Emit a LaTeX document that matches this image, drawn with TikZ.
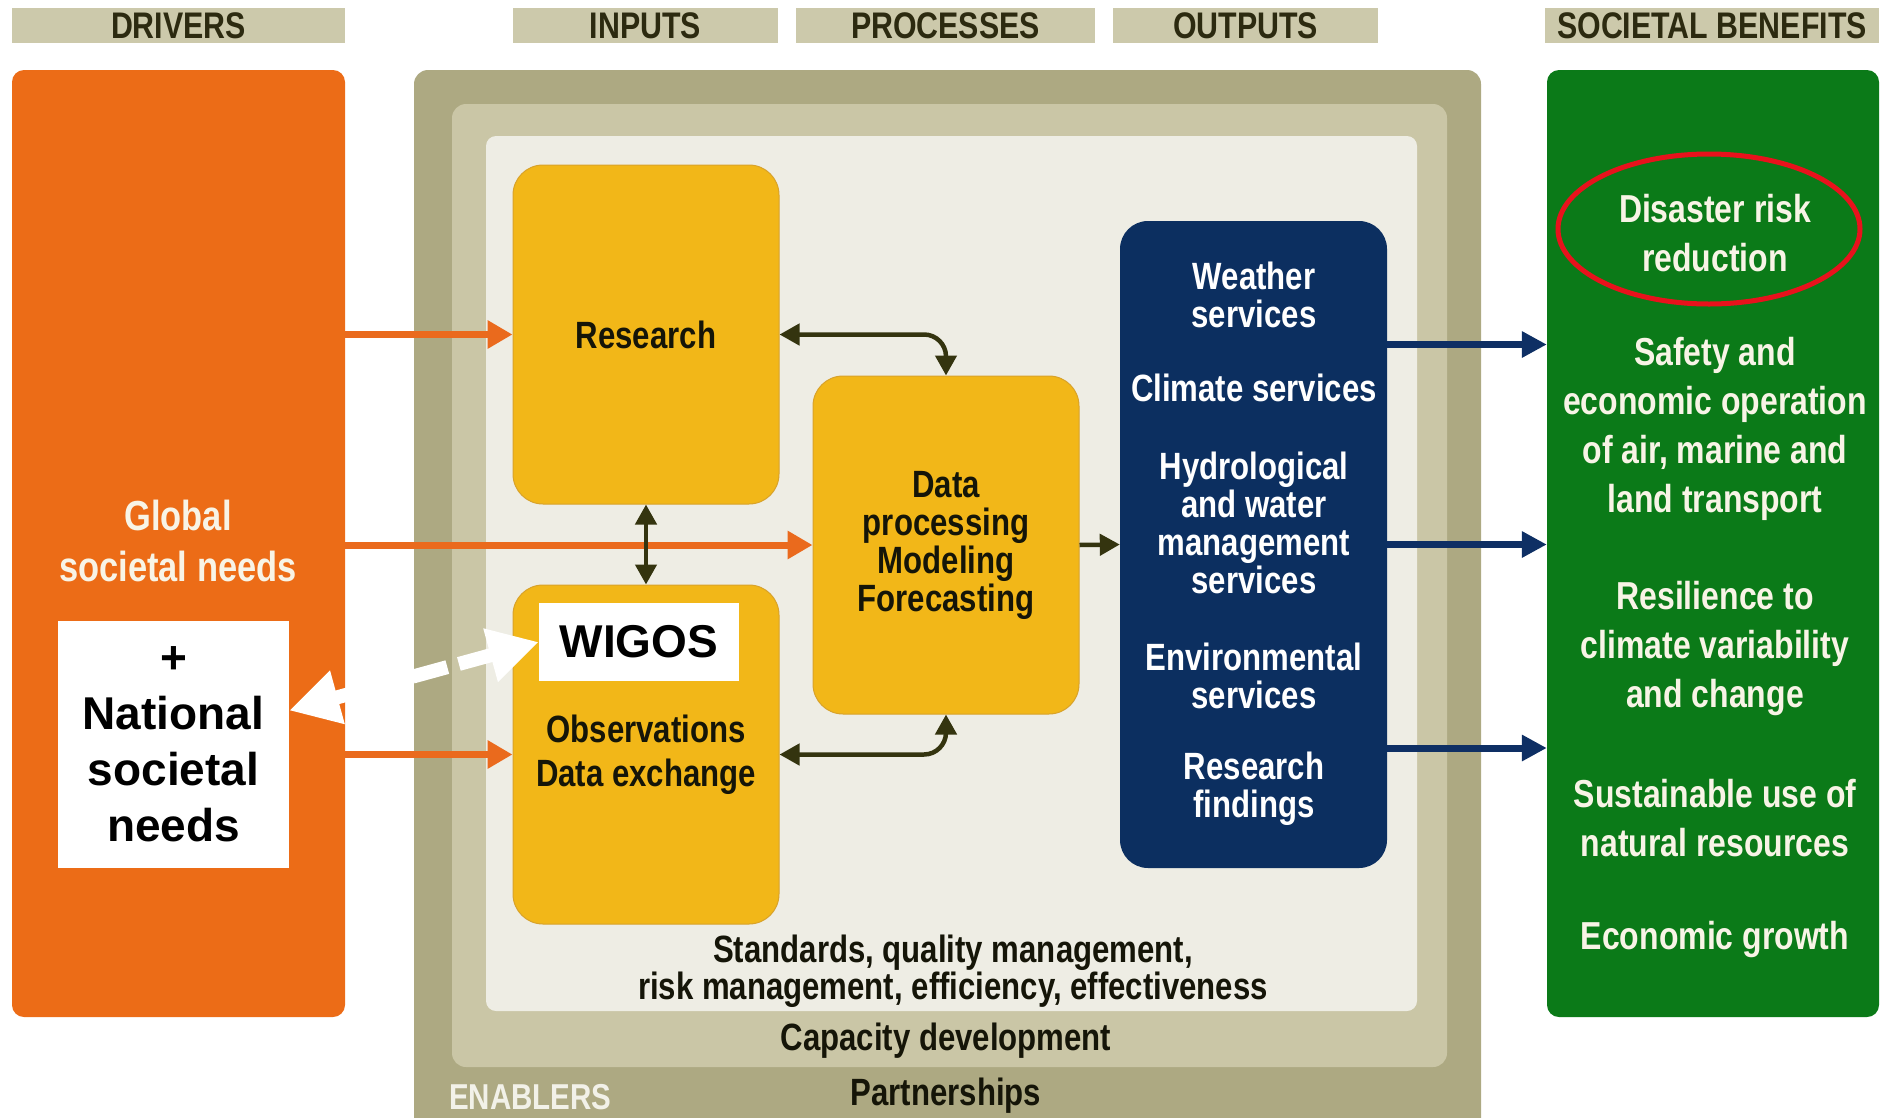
\documentclass[tikz,border=0pt]{standalone}
\usepackage{fontspec}
\usetikzlibrary{arrows.meta,shapes.geometric}
\newfontfamily\cf{Liberation Sans}[FakeStretch=0.82]
\newfontfamily\af{Liberation Sans}
\definecolor{hdrbg}{HTML}{CCC9AB}
\definecolor{hdrtx}{HTML}{2C2A10}
\definecolor{orng}{HTML}{EC6C17}
\definecolor{grn}{HTML}{0B7A18}
\definecolor{encol}{HTML}{ADA982}
\definecolor{capcol}{HTML}{CAC6A6}
\definecolor{inncol}{HTML}{EEEDE4}
\definecolor{yel}{HTML}{F2B718}
\definecolor{yelb}{HTML}{D8A22A}
\definecolor{navy}{HTML}{0C2F60}
\definecolor{darkarr}{HTML}{34340F}
\definecolor{orarr}{HTML}{EA6A1D}
\definecolor{navarr}{HTML}{0E2F64}
\definecolor{ink}{HTML}{151508}
\definecolor{cream}{HTML}{F8F4E6}
\definecolor{redring}{HTML}{E8121C}
\definecolor{entext}{HTML}{F2F1E8}
\begin{document}
\begin{tikzpicture}[x=1pt,y=-1pt,
  hdr/.style={fill=hdrbg, inner sep=0pt, minimum height=35pt, text=hdrtx,
    font=\cf\bfseries\fontsize{37}{37}\selectfont},
  bigbox/.style={inner sep=0pt, rounded corners=12pt},
  ybox/.style={fill=yel, draw=yelb, line width=1pt, rounded corners=30pt, inner sep=0pt,
    text=ink, align=center, font=\cf\bfseries\fontsize{38}{38}\selectfont},
  wtext/.style={text=white, align=center, inner sep=0pt, font=\cf\bfseries\fontsize{38}{38}\selectfont},
  gtext/.style={text=cream, align=center, inner sep=0pt, font=\cf\bfseries\fontsize{39}{49}\selectfont},
  btext/.style={text=ink, align=center, inner sep=0pt, font=\cf\bfseries\fontsize{38}{37}\selectfont},
  orangearrow/.style={draw=orarr, line width=7pt, -{Triangle[length=25pt,width=27pt]}},
  navyarrow/.style={draw=navarr, line width=7pt, -{Triangle[length=25pt,width=25pt]}},
  darkarrow/.style={draw=darkarr, line width=4.5pt, {Triangle[length=20pt,width=21pt]}-{Triangle[length=20pt,width=21pt]}},
  darkonearrow/.style={draw=darkarr, line width=4.5pt, -{Triangle[length=20pt,width=21pt]}},
  wigarrow/.style={draw=white, line width=14pt, dash pattern=on 36pt off 12pt,
    {Triangle[length=50pt,width=52pt]}-{Triangle[length=50pt,width=52pt]}},
  whitebox/.style={fill=white, inner sep=0pt, align=center, text=black}
]
\useasboundingbox (0,0) rectangle (1891,1117);
\clip (0,0) rectangle (1891,1117);

% headers
\node[hdr, minimum width=333pt] (hdrivers) at (178.5,25.5) {DRIVERS};
\node[hdr, minimum width=265pt] (hinputs) at (645.5,25.5) {INPUTS};
\node[hdr, minimum width=299pt] (hprocesses) at (945.5,25.5) {PROCESSES};
\node[hdr, minimum width=265pt] (houtputs) at (1245.5,25.5) {OUTPUTS};
\node[hdr, minimum width=334pt] (hbenefits) at (1712,25.5) {SOCIETAL BENEFITS};

% big columns
\node[bigbox, fill=orng, minimum width=333pt, minimum height=947pt] (drivers) at (178.5,543.5) {};
\node[bigbox, fill=grn, minimum width=332pt, minimum height=947pt] (benefits) at (1713,543.5) {};
\node[bigbox, fill=encol, rounded corners=14pt, minimum width=1067pt, minimum height=1070pt] (enablers) at (947.5,605) {};
\node[bigbox, fill=capcol, rounded corners=14pt, minimum width=995pt, minimum height=963pt] (capacity) at (949.5,585.5) {};
\node[bigbox, fill=inncol, rounded corners=10pt, minimum width=931pt, minimum height=875pt] (inner) at (951.5,573.5) {};

% process boxes
\node[ybox, minimum width=266pt, minimum height=339pt] (research) at (646,334.5) {Research};
\node[ybox, minimum width=266pt, minimum height=339pt, font=\cf\bfseries\fontsize{38}{44}\selectfont] (obs) at (646,754.5) {Observations\\Data exchange};
\node[ybox, minimum width=266pt, minimum height=338pt] (dp) at (946,545) {Data\\processing\\Modeling\\Forecasting};
\node[fill=navy, rounded corners=28pt, inner sep=0pt, minimum width=267pt, minimum height=647pt] (outputs) at (1253.5,544.5) {};

% arrows
\draw[orangearrow] (drivers.east |- research.west) -- (research.west);
\draw[orangearrow] (drivers.east |- dp.west) -- (dp.west);
\draw[orangearrow] (drivers.east |- obs.west) -- (obs.west);
\draw[darkarrow] (research.south) -- (obs.north);
\draw[darkarrow, rounded corners=22pt] (research.east) -| (dp.north);
\draw[darkarrow, rounded corners=22pt] (obs.east) -| (dp.south);
\draw[darkonearrow] (dp.east) -- (outputs.west);
\draw[navyarrow] ([yshift=200pt]outputs.east) -- ([yshift=200pt]outputs.east -| benefits.west);
\draw[navyarrow] (outputs.east) -- (outputs.east -| benefits.west);
\draw[navyarrow] ([yshift=-203.5pt]outputs.east) -- ([yshift=-203.5pt]outputs.east -| benefits.west);

% outputs text
\node[wtext] (tweather) at (1254,294.5) {Weather\\services};
\node[wtext] (tclimate) at (1254,388) {Climate services};
\node[wtext] (thydro) at (1254,523) {Hydrological\\and water\\management\\services};
\node[wtext] (tenv) at (1254,676) {Environmental\\services};
\node[wtext] (tfind) at (1254,788.5) {Research\\findings};

% benefits text
\node[draw=redring, line width=5pt, ellipse, minimum width=302pt, minimum height=150pt, inner sep=0pt] (ring) at (1709,229) {};
\node[gtext] (tdrr) at (1715,233.5) {Disaster risk\\reduction};
\node[gtext] (tsafety) at (1715,429) {Safety and\\economic operation\\of air, marine and\\land transport};
\node[gtext] (tres) at (1715,648) {Resilience to\\climate variability\\and change};
\node[gtext] (tsust) at (1715,818) {Sustainable use of\\natural resources};
\node[gtext] (tecon) at (1715,939) {Economic growth};

% drivers text
\node[text=cream, align=center, inner sep=0pt, font=\cf\bfseries\fontsize{42}{51}\selectfont] (tglobal) at (178,541) {Global\\societal needs};

% enablers text
\node[btext] (tstd) at (953,971.5) {Standards, quality management,\\risk management, efficiency, effectiveness};
\node[btext] (tcap) at (946,1041) {Capacity development};
\node[btext] (tpart) at (946,1096) {Partnerships};
\node[anchor=west, text=entext, inner sep=0pt, font=\cf\bfseries\fontsize{36}{36}\selectfont] (tenab) at (449,1097) {ENABLERS};

% WIGOS and national
\node[whitebox, minimum width=231pt, minimum height=247pt, font=\af\bfseries\fontsize{46}{56}\selectfont] (national) at (173.5,744.5) {+\\National\\societal\\needs};
\node[whitebox, minimum width=200pt, minimum height=78pt, font=\af\bfseries\fontsize{46}{46}\selectfont] (wigos) at (639,642) {WIGOS};
\draw[wigarrow] (wigos.west) -- ([yshift=34pt]national.east);
\end{tikzpicture}
\end{document}
